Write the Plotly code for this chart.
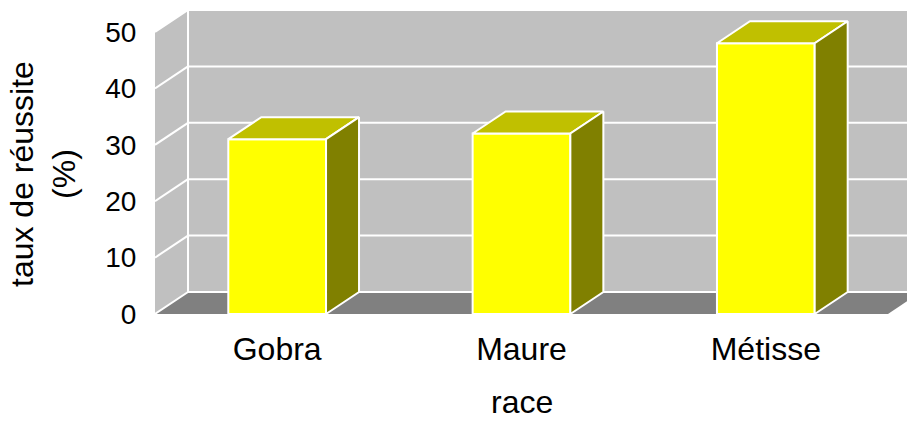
import plotly.graph_objects as go

categories = ["Gobra", "Maure", "Métisse"]
values = [31, 32, 48]
y_ticks = [0, 10, 20, 30, 40, 50]
y_title = "taux de réussite<br>(%)"
x_title = "race"

W, H = 907, 421
ML, MR, MT, MB = 155, 0, 8, 106
front0_px = 314
px_per_unit_y = 5.64
cat_px = 244.33
depth_px_x, depth_px_y = 33, 22

plot_h = H - MT - MB
plot_w = W - ML - MR
y_bottom = (front0_px - (H - MB)) / px_per_unit_y
y_top = y_bottom + plot_h / px_per_unit_y
x_left = -0.5
x_right = x_left + plot_w / cat_px
dx = depth_px_x / cat_px
dy = depth_px_y / px_per_unit_y
bar_w = 0.4
y_max = y_ticks[-1]
n = len(categories)

WALL = "#C0C0C0"
FLOOR = "#808080"
FRONT = "#FFFF00"
TOP = "#C0C000"
SIDE = "#808000"
FONT = "Arial, Liberation Sans, sans-serif"

shapes = []
# back wall
shapes.append(dict(type="rect", xref="x", yref="y", x0=x_left + dx, x1=x_right + 1,
                   y0=dy, y1=y_max + dy, fillcolor=WALL, line=dict(width=0), layer="below"))
# side wall
shapes.append(dict(type="path", xref="x", yref="y",
                   path=f"M {x_left},0 L {x_left},{y_max} L {x_left+dx},{y_max+dy} L {x_left+dx},{dy} Z",
                   fillcolor=WALL, line=dict(width=0), layer="below"))
# floor
xf = x_left + n
shapes.append(dict(type="path", xref="x", yref="y",
                   path=f"M {x_left},0 L {xf},0 L {xf+dx},{dy} L {x_left+dx},{dy} Z",
                   fillcolor=FLOOR, line=dict(width=0), layer="below"))
# gridlines
for t in y_ticks:
    shapes.append(dict(type="line", xref="x", yref="y", x0=x_left + dx, x1=x_right + 1,
                       y0=t + dy, y1=t + dy, line=dict(color="white", width=2), layer="below"))
    shapes.append(dict(type="line", xref="x", yref="y", x0=x_left, x1=x_left + dx,
                       y0=t, y1=t + dy, line=dict(color="white", width=2), layer="below"))
shapes.append(dict(type="line", xref="x", yref="y", x0=x_left + dx, x1=x_left + dx,
                   y0=dy, y1=y_max + dy, line=dict(color="white", width=2), layer="below"))

fig = go.Figure()
xs = list(range(n))
fig.add_trace(go.Bar(x=xs, y=values, width=bar_w, marker=dict(color=FRONT, line=dict(color="white", width=2)),
                     showlegend=False, hoverinfo="skip"))
for i, v in enumerate(values):
    x0 = i - bar_w / 2
    x1 = i + bar_w / 2
    # top face
    fig.add_trace(go.Scatter(x=[x0, x1, x1 + dx, x0 + dx, x0], y=[v, v, v + dy, v + dy, v],
                             mode="lines", fill="toself", fillcolor=TOP,
                             line=dict(color="white", width=2), showlegend=False, hoverinfo="skip"))
    # side face
    fig.add_trace(go.Scatter(x=[x1, x1, x1 + dx, x1 + dx, x1], y=[0, v, v + dy, dy, 0],
                             mode="lines", fill="toself", fillcolor=SIDE,
                             line=dict(color="white", width=2), showlegend=False, hoverinfo="skip"))

fig.update_layout(
    width=W, height=H, margin=dict(l=ML, r=MR, t=MT, b=MB),
    paper_bgcolor="white", plot_bgcolor="white",
    font=dict(family=FONT, size=32, color="black"),
    shapes=shapes,
    xaxis=dict(range=[x_left, x_right], tickvals=xs, ticktext=categories, showgrid=False,
               zeroline=False, showline=False, ticks="outside", ticklen=6,
               tickcolor="rgba(0,0,0,0)", tickfont=dict(size=32)),
    yaxis=dict(range=[y_bottom, y_top], tickvals=y_ticks, showgrid=False, zeroline=False,
               showline=False, ticks="outside", ticklen=12, tickcolor="rgba(0,0,0,0)",
               tickfont=dict(size=28)),
    annotations=[
        dict(text=x_title, xref="x", yref="paper", x=1, y=0, yanchor="middle",
             yshift=-87, showarrow=False, font=dict(size=32)),
        dict(text=y_title, xref="paper", yref="y", x=0, y=(front0_px - 174) / px_per_unit_y,
             xanchor="center", yanchor="middle", xshift=-112, textangle=-90,
             showarrow=False, font=dict(size=32)),
    ],
)
fig.write_html("out.html")
